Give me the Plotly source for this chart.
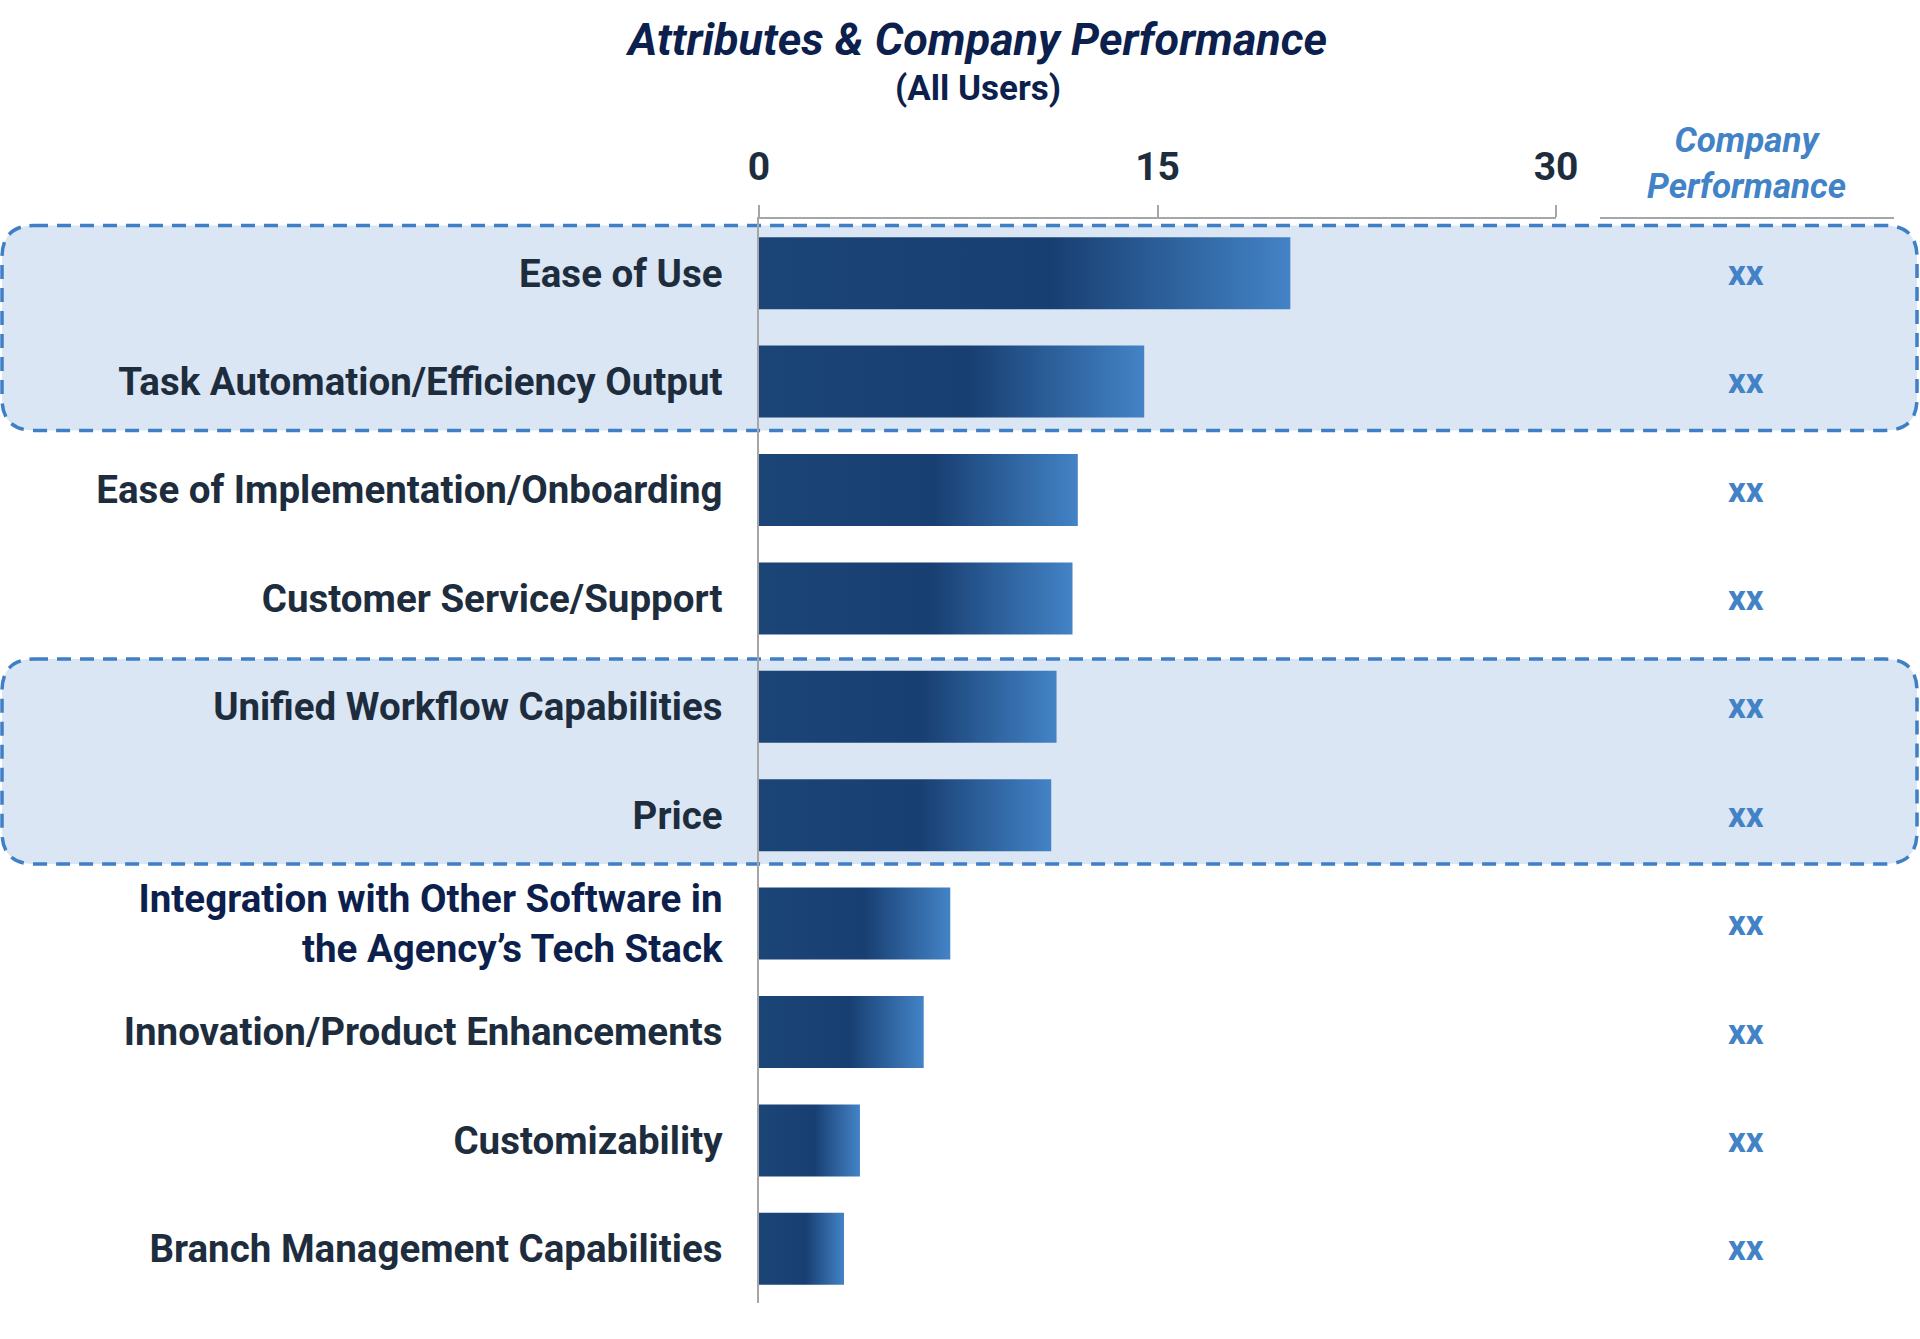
import plotly.graph_objects as go

# data, top to bottom
categories = [
    "Ease of Use",
    "Task Automation/Efficiency Output",
    "Ease of Implementation/Onboarding",
    "Customer Service/Support",
    "Unified Workflow Capabilities",
    "Price",
    "Integration with Other Software in<br>the Agency\u2019s Tech Stack",
    "Innovation/Product Enhancements",
    "Customizability",
    "Branch Management Capabilities",
]
scores = [20.0, 14.5, 12.0, 11.8, 11.2, 11.0, 7.2, 6.2, 3.8, 3.2]
company_perf = ["xx"] * 10
x_ticks = [0, 15, 30]
highlight_groups = [(0, 1), (4, 5)]

TITLE = "Attributes & Company Performance"
SUBTITLE = "(All Users)"

# colours
NAVY = "#0c1f4d"
SLATE = "#1e2d3e"
BLUE = "#4282c6"
GRAY = "#a6a6a6"
BAR_SCALE = [[0, "#1b4477"], [0.55, "#183f72"], [1, "#4383c6"]]

# plot area in page pixels
W, H = 1920, 1339
PL, PR, PT, PB = 759, 1556, 219, 1303
SLOT = (PB - PT) / len(categories)
HALF = 0.332


def px_x(p):
    return (p - PL) / (PR - PL)


def px_y(p):
    return (PB - p) / (PB - PT)


def rounded_box(x0, y0, x1, y1, r):
    pts = [
        ("M", x0 + r, y0), ("L", x1 - r, y0), ("Q", x1, y0, x1, y0 + r),
        ("L", x1, y1 - r), ("Q", x1, y1, x1 - r, y1), ("L", x0 + r, y1),
        ("Q", x0, y1, x0, y1 - r), ("L", x0, y0 + r), ("Q", x0, y0, x0 + r, y0),
    ]
    out = []
    for seg in pts:
        cmd, coords = seg[0], seg[1:]
        xy = []
        for k in range(0, len(coords), 2):
            xy.append(f"{px_x(coords[k]):.5f},{px_y(coords[k + 1]):.5f}")
        out.append(cmd + " " + " ".join(xy))
    return " ".join(out) + " Z"


fig = go.Figure()

for i, (cat, val) in enumerate(zip(categories, scores)):
    fig.add_trace(go.Scatter(
        x=[0, val, val, 0, 0],
        y=[i - HALF, i - HALF, i + HALF, i + HALF, i - HALF],
        mode="lines", fill="toself", line=dict(width=0),
        fillgradient=dict(type="horizontal", colorscale=BAR_SCALE),
        name=cat.replace("<br>", " "), showlegend=False,
        hoverinfo="name+x",
    ))

# highlighted groups
shapes = []
for a, b in highlight_groups:
    top = PT + (a + 0.5) * SLOT - 0.44 * SLOT
    bot = PT + (b + 0.5) * SLOT + 0.45 * SLOT
    shapes.append(dict(
        type="path", xref="paper", yref="paper", layer="below",
        path=rounded_box(2, top, 1917, bot, 32),
        fillcolor="#dbe6f4",
        line=dict(color="#3f7fc6", width=3.5, dash="14px,9px"),
    ))
# rule under the Company Performance header
shapes.append(dict(type="line", xref="paper", yref="paper",
                   x0=px_x(1600), x1=px_x(1894), y0=px_y(218), y1=px_y(218),
                   line=dict(color=GRAY, width=2)))

annotations = [
    dict(text=f"<b><i>{TITLE}</i></b>", x=px_x(976), y=px_y(40),
         xref="paper", yref="paper", showarrow=False, xanchor="center", yanchor="middle",
         font=dict(family="Roboto", size=45, color=NAVY)),
    dict(text=f"<b>{SUBTITLE}</b>", x=px_x(978), y=px_y(88),
         xref="paper", yref="paper", showarrow=False, xanchor="center", yanchor="middle",
         font=dict(family="Roboto", size=35, color=NAVY)),
    dict(text="<b><i>Company<br>Performance</i></b>", x=px_x(1746), y=px_y(164),
         xref="paper", yref="paper", showarrow=False, xanchor="center", yanchor="middle",
         font=dict(family="Roboto", size=35, color=BLUE)),
]
for i, txt in enumerate(company_perf):
    annotations.append(dict(text=f"<b>{txt}</b>", x=px_x(1746), y=i,
                            xref="paper", yref="y", showarrow=False,
                            xanchor="center", yanchor="middle",
                            font=dict(family="Roboto", size=35, color=BLUE)))

tick_text = []
for cat in categories:
    color = NAVY if "<br>" in cat else SLATE
    tick_text.append(f"<span style='color:{color}'><b>{cat}</b></span>")

fig.update_layout(
    width=W, height=H,
    margin=dict(l=PL, r=W - PR, t=PT, b=H - PB, autoexpand=False),
    paper_bgcolor="white", plot_bgcolor="rgba(0,0,0,0)",
    font=dict(family="Roboto", color=SLATE),
    shapes=shapes, annotations=annotations,
    xaxis=dict(
        side="top", range=[0, 30], tickvals=x_ticks,
        ticktext=[f"<b>{t}</b>" for t in x_ticks],
        showline=True, linecolor=GRAY, linewidth=1.5,
        ticks="outside", ticklen=12, tickcolor=GRAY, tickwidth=1.5,
        tickfont=dict(family="Roboto", size=39, color=SLATE),
        ticklabelstandoff=10,
        showgrid=False, zeroline=False, automargin=False,
    ),
    yaxis=dict(
        range=[len(categories) - 0.5, -0.5],
        tickvals=list(range(len(categories))), ticktext=tick_text,
        showline=True, linecolor=GRAY, linewidth=1.5, ticks="",
        tickfont=dict(family="Roboto", size=38.5, color=SLATE),
        ticklabelstandoff=27,
        showgrid=False, zeroline=False, automargin=False,
    ),
)

# drop the default page margin so the figure sits at the window corner
fig.write_html("out.html", config={"displayModeBar": False},
               post_script="document.body.style.margin = '0';")
